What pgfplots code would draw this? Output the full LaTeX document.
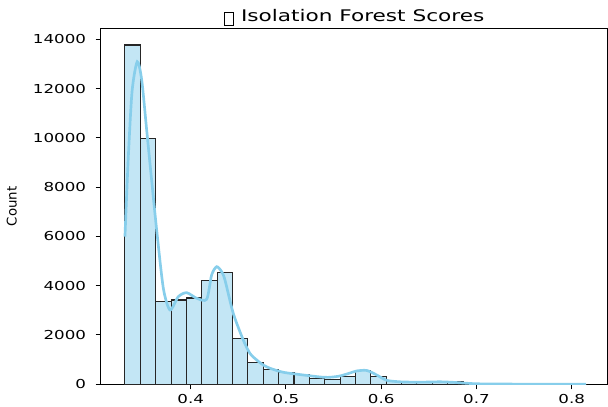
\documentclass[border=0pt]{standalone}
\usepackage{fontspec}
\setmainfont{DejaVu Sans}[FakeStretch=1.35]
\newfontfamily\labelfont{DejaVu Sans}
\usepackage{pgfplots}
\pgfplotsset{compat=1.18}
\definecolor{skyblue}{RGB}{135,206,235}
\newcommand\tofu{\raisebox{-2.4pt}{\setlength\fboxsep{0pt}\setlength\fboxrule{0.6pt}\fbox{\rule{0pt}{9.2pt}\hspace{6.4pt}}}}
\begin{document}
\begin{tikzpicture}
\begin{axis}[
  at={(0,0)}, anchor=south west,
  scale only axis, width=380.25pt, height=267pt,
  xmin=0.3055, xmax=0.8378, ymin=0, ymax=14448,
  axis line style={line width=0.75pt, black},
  xtick={0.4,0.5,0.6,0.7,0.8},
  xticklabels={0.4,0.5,0.6,0.7,0.8},
  ytick={0,2000,4000,6000,8000,10000,12000,14000},
  scaled y ticks=false,
  /pgf/number format/1000 sep={},
  /pgf/number format/assume math mode=true,
  tick align=outside, tick pos=left,
  major tick length=3.8pt,
  tick style={line width=0.75pt, black},
  tick label style={font=\fontsize{9.26pt}{11pt}\selectfont},
  yticklabel style={anchor=east, inner sep=0pt, xshift=-7pt},
  xticklabel style={anchor=north, inner sep=0pt, yshift=-3.6pt},
  ylabel={Count},
  ylabel style={at={(axis description cs:-0.1755,0.5)}, anchor=center, font=\labelfont\fontsize{10pt}{11pt}\selectfont},
  title={\tofu\ Isolation Forest Scores},
  title style={at={(axis description cs:0.5,1)}, anchor=base, yshift=-1.05pt, inner sep=0pt, font=\fontsize{12pt}{14pt}\selectfont},
]
\addplot[ybar interval, fill=skyblue!50!white, draw=black!85, line width=0.8pt] coordinates {
(0.33100,13770) (0.34714,9960) (0.36327,3360) (0.37941,3420) (0.39554,3500)
(0.41168,4210) (0.42782,4550) (0.44395,1870) (0.46009,870) (0.47622,610)
(0.49236,470) (0.50850,380) (0.52463,250) (0.54077,210) (0.55690,300)
(0.57304,550) (0.58918,330) (0.60531,130) (0.62145,100) (0.63758,90)
(0.65372,90) (0.66986,100) (0.68599,40) (0.70213,20) (0.71826,12)
(0.73440,8) (0.75054,6) (0.76667,4) (0.78281,3) (0.79894,3) (0.81508,3)
};
\addplot[skyblue, line width=2pt, smooth, tension=0.45] coordinates {
(0.3310,5990) (0.3345,9200) (0.3385,11900) (0.3439,13090) (0.3486,12349)
(0.3538,10320) (0.3590,8290) (0.3643,6262) (0.3713,3896) (0.3783,3015)
(0.3870,3555) (0.3958,3717) (0.4063,3490) (0.4168,3449) (0.4220,4435)
(0.4273,4772) (0.4325,4569) (0.4360,4232) (0.4447,2881) (0.4552,1798)
(0.4623,1250) (0.4693,986) (0.4762,783) (0.4833,649) (0.4972,487)
(0.5182,377) (0.5392,284) (0.5480,290) (0.5567,337) (0.5660,440)
(0.5743,540) (0.5848,560) (0.5953,377) (0.6058,160) (0.6197,100)
(0.6350,85) (0.6500,90) (0.6620,100) (0.6750,80) (0.6900,40)
(0.7000,20) (0.7200,10) (0.7500,6) (0.7800,4) (0.8150,3)
};
\end{axis}
\pgfresetboundingbox
\path (-75.5pt,-17pt) rectangle (380.5pt,288.2pt);
\end{tikzpicture}
\end{document}
